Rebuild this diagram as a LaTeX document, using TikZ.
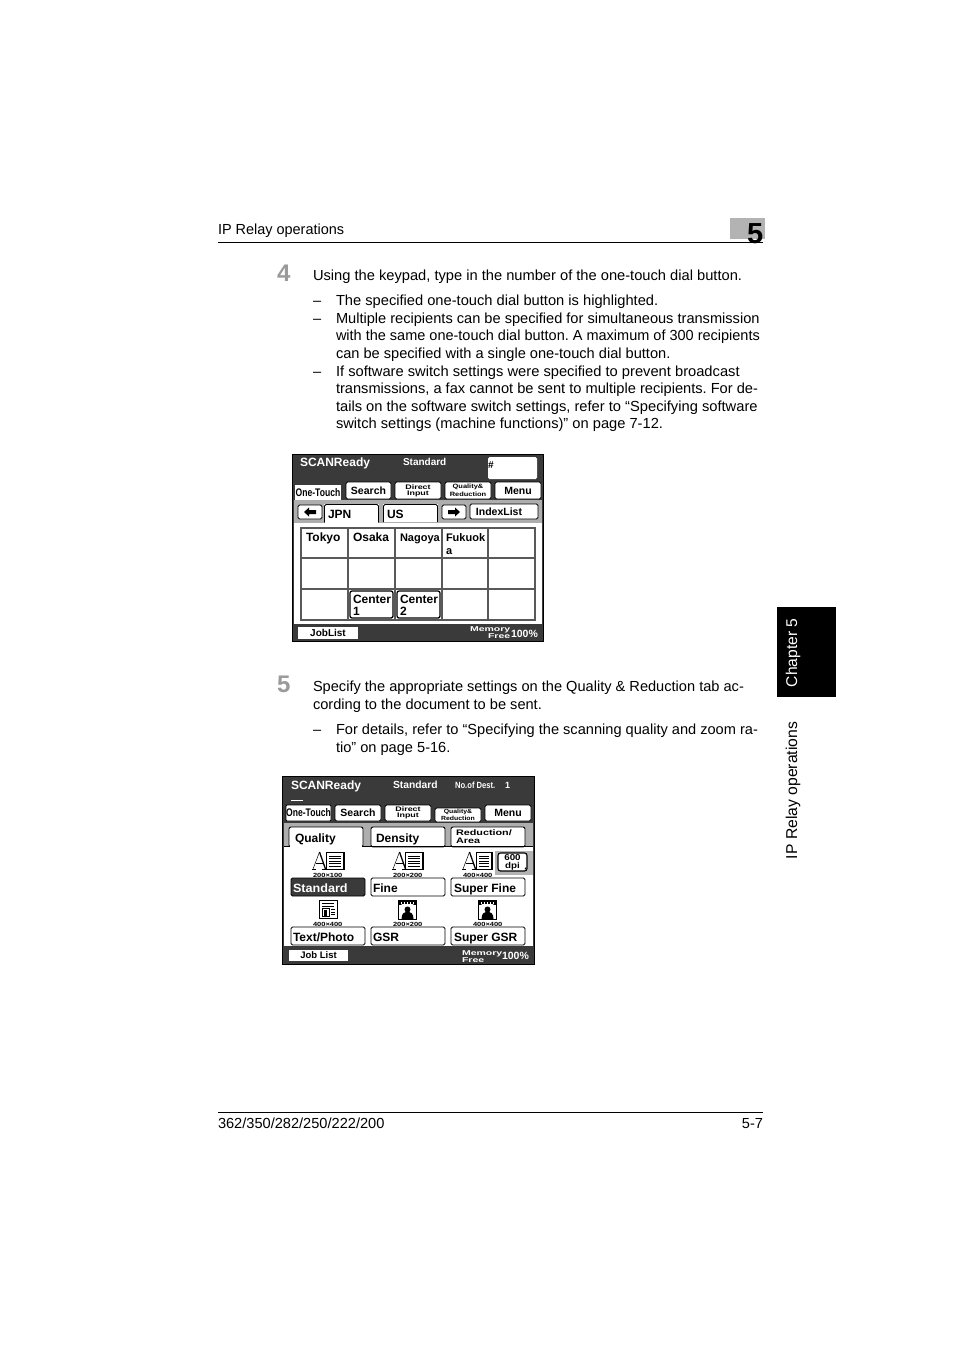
\documentclass[tikz,border=0pt]{standalone}
\usepackage{fontspec}
\setmainfont{Liberation Sans}
\definecolor{panel}{HTML}{3A3A3A}
\definecolor{strip}{HTML}{AEAEAE}
\definecolor{stepgray}{HTML}{9A9A9A}
\definecolor{tabgray}{HTML}{B3B3B3}
\newcounter{tn}
\newcommand\fsz[1]{\fontsize{#1}{#1}\selectfont}
\newcommand\TT[4][]{\stepcounter{tn}\node[txt,#1] (t\arabic{tn}) at (#2,#3) {#4};}
\newcommand\Btn[6][]{\stepcounter{tn}\pgfmathsetmacro\cxx{(#2+#4)/2}\pgfmathsetmacro\cyy{(#3+#5)/2}\pgfmathsetmacro\wdd{#4-#2}\pgfmathsetmacro\htt{#5-#3}%
\node[btn,minimum width=\wdd pt,minimum height=\htt pt,#1] (b\arabic{tn}) at (\cxx,\cyy) {#6};}
\newcommand\Wide[2]{\scalebox{#1}[1]{#2}}
\newcommand\Two[4]{\shortstack[c]{\fsz{#3}\Wide{#4}{#1}\\[-1.2pt]\fsz{#3}\Wide{#4}{#2}}}
\newcommand\AIcon[4]{% A left, doc left, doc right, label
\draw[line width=.5pt] (#1,869)--(#1+6.5,852);
\draw[line width=1.3pt] (#1+6.5,852)--(#1+12.5,869);
\draw[line width=.6pt] (#1+2.5,863)--(#1+10,863);
\draw[line width=.6pt] (#1-1,869.5)--(#1+3,869.5) (#1+9,869.5)--(#1+15,869.5);
\draw[line width=.6pt] (#2,852.5) rectangle (#3,869.5);
\draw[line width=1.2pt] (#2,852.5)--(#3,852.5)--(#3,869.5);
\foreach \yy in {856,858.5,861,863.5,866}{\draw[line width=.5pt] (#2+3,\yy)--(#3-3,\yy);}
\TT[font=\bfseries\fsz{6}]{#1}{877}{\Wide{1.25}{#4}}}
\begin{document}
\frenchspacing
\begin{tikzpicture}[x=1pt,y=-1pt,
 txt/.style={inner sep=0pt,outer sep=0pt,anchor=base west,text=black,font=\fsz{14.6}},
 btn/.style={draw=black,fill=white,rounded corners=1.5pt,line width=.9pt,inner sep=0pt,outer sep=0pt,align=center,font=\bfseries\fsz{10.5},text=black},
 lab/.style={font=\bfseries\fsz{12},anchor=base west},
 wt/.style={text=white,font=\bfseries\fsz{12}},
 cell/.style={draw=black!65,line width=1.2pt}]
\useasboundingbox (0,0) rectangle (954,1350);
\fill[white] (0,0) rectangle (954,1350);

% page head
\TT{218}{234}{\Wide{.99}{IP Relay operations}}
\fill[tabgray] (730,218) rectangle (765,239);
\draw[line width=1pt] (218,242.5)--(763,242.5);
\TT[font=\bfseries\fsz{29}]{747}{243}{5}

% step 4
\TT[font=\bfseries\fsz{24},text=stepgray]{277}{281}{4}
\TT{313}{280}{\Wide{1.005}{Using the keypad, type in the number of the one-touch dial button.}}
\TT{313}{305}{–}\TT{336}{305}{\Wide{1.005}{The specified one-touch dial button is highlighted.}}
\TT{313}{323}{–}\TT{336}{323}{Multiple recipients can be specified for simultaneous transmission}
\TT{336}{340}{\Wide{.993}{with the same one-touch dial button. A maximum of 300 recipients}}
\TT{336}{358}{can be specified with a single one-touch dial button.}
\TT{313}{376}{–}\TT{336}{376}{\Wide{1.007}{If software switch settings were specified to prevent broadcast}}
\TT{336}{393}{\Wide{1.002}{transmissions, a fax cannot be sent to multiple recipients. For de-}}
\TT{336}{411}{\Wide{1.007}{tails on the software switch settings, refer to “Specifying software}}
\TT{336}{428}{\Wide{1.005}{switch settings (machine functions)” on page 7-12.}}

% panel 1
\fill[panel] (292,454) rectangle (544,642);
\draw[line width=1pt] (292.5,454.5) rectangle (543.5,641.5);
\fill[strip] (294,500) rectangle (542,523);
\fill[white] (294,523) rectangle (542,624);
\TT[wt]{300}{466}{SCANReady}
\TT[wt,font=\bfseries\fsz{10}]{403}{465}{Standard}
\Btn[draw=none]{488}{457}{537}{479}{}
\TT[font=\bfseries\fsz{10}]{488}{468}{\#}
\Btn[draw=none,rounded corners=0pt]{295}{485}{341}{500}{\Wide{.78}{\fsz{11}\bfseries One-Touch}}
\Btn{346}{482}{391}{499}{Search}
\Btn{395}{482}{441}{499}{\Two{Direct}{Input}{6.6}{1.35}}
\Btn{445}{482}{491}{499}{\Two{Quality\&}{Reduction}{6.2}{1.2}}
\Btn{495}{482}{541}{499}{Menu}
\Btn{298}{505}{322}{519}{}
\fill (304,512) -- (309,507.5) -- (309,510) -- (316,510) -- (316,514) -- (309,514) -- (309,516.5) -- cycle;
\fill[white] (324,504) rectangle (379,523);
\draw[line width=.8pt,rounded corners=1.5pt] (324.5,522.5)--(324.5,504.5)--(378.5,504.5)--(378.5,522.5);
\TT[lab]{328}{518}{JPN}
\fill[white] (383,504) rectangle (438,522);
\draw[line width=.8pt,rounded corners=1.5pt] (383.5,522)--(383.5,504.5)--(437.5,504.5)--(437.5,522);
\TT[lab]{387}{518}{US}
\Btn{442}{505}{466}{519}{}
\fill (460,512) -- (455,507.5) -- (455,510) -- (448,510) -- (448,514) -- (455,514) -- (455,516.5) -- cycle;
\Btn{470}{504}{538}{519}{\hspace*{-10pt}\fsz{10.5}IndexList}
% grid
\foreach \xa/\xb in {301/348,348/395,395/442,442/488,488/535}{
 \foreach \ya/\yb in {528/558,558/589,589/620}{
  \draw[cell] (\xa,\ya) rectangle (\xb,\yb);}}
\Btn[line width=1.3pt,rounded corners=2pt]{350}{591}{393}{618}{}
\Btn[line width=1.3pt,rounded corners=2pt]{397}{591}{440}{618}{}
\TT[lab]{306}{541}{Tokyo}
\TT[lab]{353}{541}{Osaka}
\TT[lab,font=\bfseries\fsz{11}]{400}{541}{Nagoya}
\TT[lab,font=\bfseries\fsz{11}]{446}{541}{Fukuok}
\TT[lab,font=\bfseries\fsz{11}]{446}{554}{a}
\TT[lab]{353}{603}{Center}\TT[lab]{353}{615}{1}
\TT[lab]{400}{603}{Center}\TT[lab]{400}{615}{2}
\Btn[draw=none,rounded corners=0pt]{298}{627}{358}{639}{\fsz{10}JobList}
\TT[wt,font=\bfseries\fsz{7}]{470}{631}{\Wide{1.5}{Memory}}
\TT[wt,font=\bfseries\fsz{7}]{488}{638.5}{\Wide{1.5}{Free}}
\TT[wt,font=\bfseries\fsz{10.5}]{511}{637}{100\%}

% step 5
\TT[font=\bfseries\fsz{24},text=stepgray]{277}{692}{5}
\TT{313}{691}{Specify the appropriate settings on the Quality \& Reduction tab ac-}
\TT{313}{709}{cording to the document to be sent.}
\TT{313}{734}{–}\TT{336}{734}{For details, refer to “Specifying the scanning quality and zoom ra-}
\TT{336}{752}{tio” on page 5-16.}

% panel 2
\fill[panel] (282,776) rectangle (535,965);
\draw[line width=1.4pt] (282.7,776.7) rectangle (534.3,964.3);
\fill[strip] (284,823) rectangle (533,847);
\fill[white] (284,846) rectangle (533,946);
\TT[wt]{291}{789}{SCANReady}
\TT[wt,font=\bfseries\fsz{10.3}]{393}{788}{Standard}
\TT[wt,font=\bfseries\fsz{9}]{455}{788}{\Wide{.85}{No.of Dest.}}
\TT[wt,font=\bfseries\fsz{9}]{505}{788}{1}
\draw[white,line width=1.4pt] (291,800.5)--(303,800.5);
\Btn[rounded corners=1pt]{286}{805}{331}{821}{\Wide{.78}{\fsz{11}One-Touch}}
\Btn{335}{805}{381}{821}{Search}
\Btn{385}{805}{431}{821}{\Two{Direct}{Input}{6.6}{1.35}}
\Btn{435}{808}{481}{822}{\Two{Quality\&}{Reduction}{6}{1.15}}
\Btn{485}{805}{531}{821}{Menu}
\Btn[rounded corners=2pt,draw=black]{289}{827}{363}{847}{}
\Btn[rounded corners=2pt,draw=black]{371}{827}{445}{847}{}
\Btn[rounded corners=2pt,draw=black]{451}{827}{525}{847}{}
\fill[white] (290,846) rectangle (362,848);
\draw[black,line width=.8pt] (284,846.5)--(289,846.5) (363,846.5)--(533,846.5);
\TT[lab]{295}{842}{Quality}
\TT[lab]{376}{842}{Density}
\TT[lab,font=\bfseries\fsz{8}]{456}{835}{\Wide{1.35}{Reduction/}}
\TT[lab,font=\bfseries\fsz{8}]{456}{843}{\Wide{1.35}{Area}}
\AIcon{313}{326}{344}{200×100}
\AIcon{393}{405}{423}{200×200}
\AIcon{463}{476}{492}{400×400}
\fill[tabgray] (495,851) rectangle (533,875);
\Btn[rounded corners=2.5pt,line width=1.1pt]{498}{853}{527}{871}{\Two{600}{dpi}{8.5}{1.15}}
\fill (524.5,869) -- (526,867) -- (526,869.5) -- cycle;
\Btn[fill=panel,text=white]{291}{878}{365}{896}{}
\TT[lab,text=white]{293}{892}{\Wide{1.05}{Standard}}
\Btn{371}{878}{445}{896}{}\TT[lab]{373}{892}{Fine}
\Btn{451}{878}{525}{896}{}\TT[lab]{454}{892}{Super Fine}
% lower icons
\draw[line width=.8pt] (319.5,900.5) rectangle (337,918.5);
\draw[line width=1pt] (322,903.5)--(334,903.5) (322,906)--(334,906);
\draw[line width=.8pt] (322,908.5) rectangle (329,916);
\fill (324,910) rectangle (327,915.5);
\draw[line width=.6pt] (331,909.5)--(334.5,909.5) (331,912)--(334.5,912) (331,914.5)--(334.5,914.5);
\foreach \xx in {398.5,478.5}{
 \draw[line width=.8pt] (\xx,900.5) rectangle (\xx+18,919);
 \fill (\xx,900.5) rectangle (\xx+18,905);
 \fill[white] (\xx+1,906) -- (\xx+4,904) -- (\xx+14,904) -- (\xx+17,906) -- (\xx+17,917) -- (\xx+1,917) -- cycle;
 \foreach \dd in {2,5,8,11,14}{\fill[white] (\xx+\dd,902) rectangle (\xx+\dd+1.5,903.5);}
 \fill (\xx+9,909.5) circle (3);
 \fill (\xx+3,919) .. controls (\xx+3,913) and (\xx+6,912) .. (\xx+9,912) .. controls (\xx+12,912) and (\xx+15,913) .. (\xx+15,919) -- cycle;
}
\TT[font=\bfseries\fsz{6}]{313}{926}{\Wide{1.25}{400×400}}
\TT[font=\bfseries\fsz{6}]{393}{926}{\Wide{1.25}{200×200}}
\TT[font=\bfseries\fsz{6}]{473}{926}{\Wide{1.25}{400×400}}
\Btn{291}{927}{365}{945}{}\TT[lab]{293}{941}{Text/Photo}
\Btn{371}{927}{445}{945}{}\TT[lab]{373}{941}{GSR}
\Btn{451}{927}{525}{945}{}\TT[lab]{454}{941}{Super GSR}
\Btn[draw=none,rounded corners=0pt]{289}{950}{348}{961}{\fsz{9.5}Job List}
\TT[wt,font=\bfseries\fsz{7}]{462}{955}{\Wide{1.5}{Memory}}
\TT[wt,font=\bfseries\fsz{7}]{462}{962}{\Wide{1.5}{Free}}
\TT[wt,font=\bfseries\fsz{10.5}]{502}{959}{100\%}

% side tab
\fill (777,607) rectangle (836,697);
\stepcounter{tn}\node[txt,text=white,rotate=90,anchor=base west,font=\fsz{15.6}] (t\arabic{tn}) at (797,687) {Chapter 5};
\stepcounter{tn}\node[txt,rotate=90,anchor=base west,font=\fsz{15.7}] (t\arabic{tn}) at (797,859) {IP Relay operations};

% footer
\draw[line width=.8pt] (218,1112.5)--(763,1112.5);
\TT{218}{1128}{362/350/282/250/222/200}
\TT[anchor=base east]{763}{1128}{5-7}
\end{tikzpicture}
\end{document}
